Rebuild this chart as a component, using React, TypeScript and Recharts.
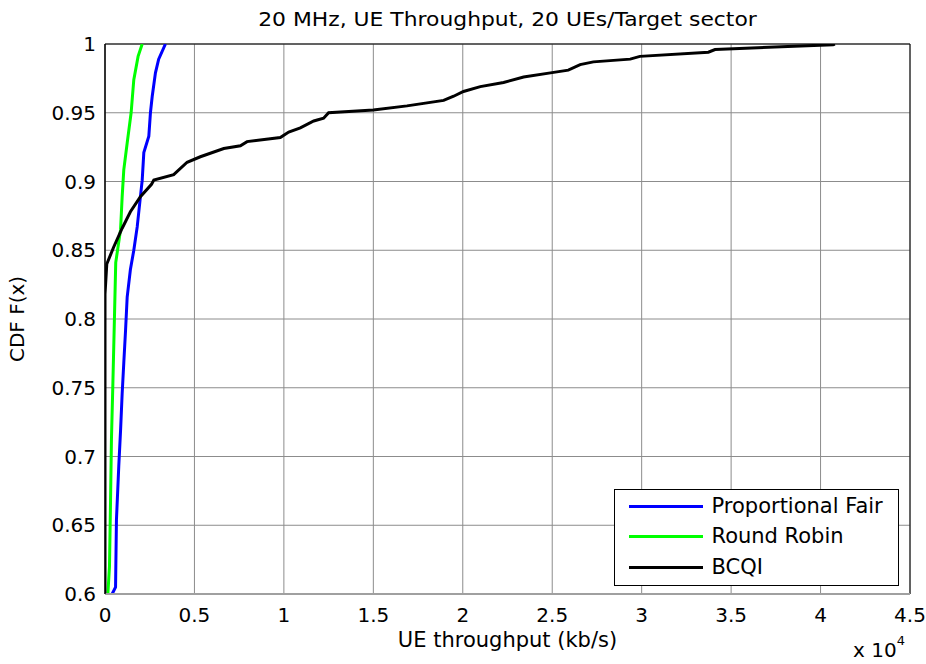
import { LineChart, Line, XAxis, YAxis, CartesianGrid, ReferenceLine, Label } from 'recharts';

const xTicks = [0, 5000, 10000, 15000, 20000, 25000, 30000, 35000, 40000, 45000];
const yTicks = [0.6, 0.65, 0.7, 0.75, 0.8, 0.85, 0.9, 0.95, 1];

const pfThroughput = [400, 590, 640, 770, 870, 960, 1050, 1150, 1240, 1420, 1610, 1800, 1980, 2080, 2170, 2450, 2540, 2640, 2820, 3000, 3380];
const pfCdf = [0.6, 0.605, 0.654, 0.693, 0.719, 0.746, 0.768, 0.792, 0.816, 0.836, 0.85, 0.867, 0.889, 0.901, 0.921, 0.933, 0.95, 0.962, 0.979, 0.989, 1.0];

const rrThroughput = [160, 250, 310, 360, 440, 530, 600, 870, 960, 1050, 1240, 1460, 1610, 1850, 2080];
const rrCdf = [0.6, 0.62, 0.668, 0.712, 0.753, 0.802, 0.841, 0.865, 0.889, 0.9085, 0.928, 0.95, 0.974, 0.991, 1.0];

const bcqiThroughput = [0, 0, 100, 475, 960, 1420, 1980, 2600, 2730, 3840, 4590, 5330, 6640, 7570, 7940, 9800, 10270, 10920, 11670, 12220, 12500, 15000, 16880, 18930, 19490, 20040, 20980, 22280, 23400, 24900, 25900, 26560, 27300, 29360, 29900, 33730, 34100, 40700, 40800];
const bcqiCdf = [0.6, 0.818, 0.84, 0.852, 0.866, 0.878, 0.889, 0.898, 0.901, 0.905, 0.914, 0.918, 0.924, 0.926, 0.929, 0.932, 0.936, 0.939, 0.944, 0.946, 0.95, 0.952, 0.955, 0.959, 0.962, 0.9655, 0.969, 0.972, 0.976, 0.979, 0.981, 0.985, 0.987, 0.989, 0.991, 0.994, 0.996, 0.9995, 1.0];

const toPoints = (xs: number[], ys: number[]) => xs.map((x, i) => ({ x, y: ys[i] }));

const series = [
  { name: 'Proportional Fair', color: '#0000ff', data: toPoints(pfThroughput, pfCdf) },
  { name: 'Round Robin', color: '#00ff00', data: toPoints(rrThroughput, rrCdf) },
  { name: 'BCQI', color: '#000000', data: toPoints(bcqiThroughput, bcqiCdf) },
];

const FONT = '"DejaVu Sans", Verdana, sans-serif';

// legend drawn as a plain box over the plot, so it takes no room from the axes
const LegendBox = () => (
  <div style={{ position: 'absolute', left: 614, top: 489, border: '1.5px solid #000', background: '#fff', width: 285, height: 97, boxSizing: 'border-box', padding: '1px 0 0 13.5px' }}>
    {series.map((s) => (
      <div key={s.name} style={{ display: 'flex', alignItems: 'center', height: 30.5 }}>
        <div style={{ width: 74, height: 3, background: s.color, marginRight: 9 }} />
        <span style={{ fontFamily: FONT, fontSize: 21, color: '#000', lineHeight: 1 }}>{s.name}</span>
      </div>
    ))}
  </div>
);

export default function App() {
  return (
    <div style={{ position: 'absolute', left: 0, top: 0, width: 926, height: 664, background: '#fff' }}>
      <LineChart width={926} height={664} margin={{ top: 44, right: 16, bottom: 17, left: 45 }}>
        <CartesianGrid stroke="#8c8c8c" strokeWidth={1} />
        <XAxis
          type="number"
          dataKey="x"
          domain={[0, 45000]}
          ticks={xTicks}
          tickFormatter={(v: number) => String(v / 10000)}
          height={53}
          tickLine={false}
          tickSize={6}
          tickMargin={8}
          axisLine={{ stroke: '#a0a0a0', strokeWidth: 2 }}
          tick={{ fill: '#000', fontSize: 20, fontFamily: FONT }}
          allowDataOverflow
        >
          <Label value="UE throughput (kb/s)" position="insideBottom" offset={0} style={{ fill: '#000', fontSize: 21, fontFamily: FONT }} />
        </XAxis>
        <YAxis
          type="number"
          domain={[0.6, 1]}
          ticks={yTicks}
          width={60}
          tickLine={false}
          tickSize={4}
          tickMargin={5}
          axisLine={{ stroke: '#000', strokeWidth: 1.5 }}
          tick={{ fill: '#000', fontSize: 20, fontFamily: FONT }}
          allowDataOverflow
        >
          <Label value="CDF F(x)" angle={-90} position="insideLeft" offset={-28} style={{ fill: '#000', fontSize: 20, fontFamily: FONT, textAnchor: 'middle' }} />
        </YAxis>
        <ReferenceLine y={1} stroke="#000" strokeWidth={1} />
        <ReferenceLine x={45000} stroke="#000" strokeWidth={1} />
        {series.map((s) => (
          <Line
            key={s.name}
            data={s.data}
            dataKey="y"
            name={s.name}
            type="linear"
            stroke={s.color}
            strokeWidth={3}
            dot={false}
            activeDot={false}
            isAnimationActive={false}
          />
        ))}
      </LineChart>
      <div style={{ position: 'absolute', left: 105, width: 805, top: 8, textAlign: 'center', fontFamily: FONT, fontSize: 19, color: '#000', transform: 'scaleX(1.15)', whiteSpace: 'nowrap' }}>
        20 MHz, UE Throughput, 20 UEs/Target sector
      </div>
      <LegendBox />
      <div style={{ position: 'absolute', left: 853, top: 640, fontFamily: FONT, fontSize: 20, color: '#000', lineHeight: 1, whiteSpace: 'nowrap' }}>
        x 10<sup style={{ fontSize: 13, verticalAlign: 'top', position: 'relative', top: -6 }}>4</sup>
      </div>
    </div>
  );
}
